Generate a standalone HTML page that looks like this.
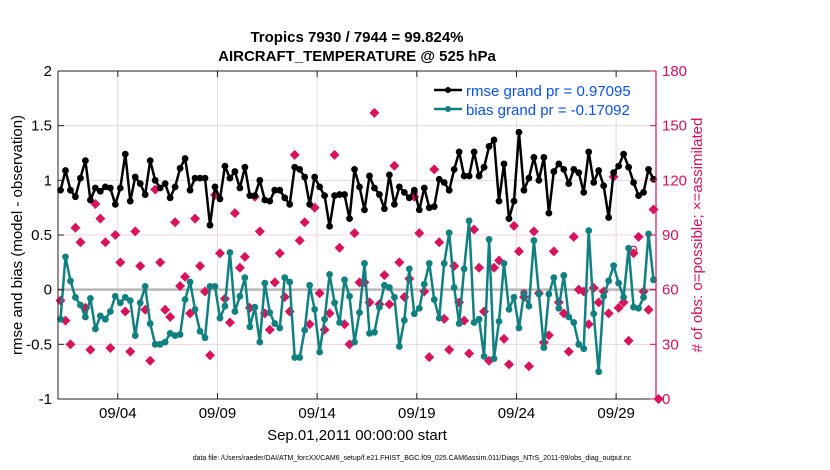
<!DOCTYPE html>
<html><head><meta charset="utf-8"><style>
html,body{margin:0;padding:0;background:#fff;}
svg{display:block;font-family:"Liberation Sans",Arial,sans-serif;}
</style></head><body>
<svg id="chart" width="830" height="470" viewBox="0 0 830 470" xmlns="http://www.w3.org/2000/svg">
<rect x="0" y="0" width="830" height="470" fill="#fff"/>
<g id="grid"></g>
<g id="marks"></g>
<g id="axes"></g>
<text x="357" y="42" text-anchor="middle" font-size="15" font-weight="bold">Tropics 7930 / 7944 = 99.824%</text>
<text x="357" y="61" text-anchor="middle" font-size="15" font-weight="bold">AIRCRAFT_TEMPERATURE @ 525 hPa</text>
<text transform="translate(22,235) rotate(-90)" text-anchor="middle" font-size="15">rmse and bias (model - observation)</text>
<text transform="translate(702,235) rotate(-90)" text-anchor="middle" font-size="15" fill="#d6105a"># of obs: o=possible; ×=assimilated</text>
<text x="357" y="440" text-anchor="middle" font-size="15">Sep.01,2011 00:00:00 start</text>
<text x="412" y="460" text-anchor="middle" font-size="7">data file: /Users/raeder/DAI/ATM_forcXX/CAM6_setup/f.e21.FHIST_BGC.f09_025.CAM6assim.011/Diags_NTrS_2011-09/obs_diag_output.nc</text>
<g>
<rect x="430" y="78" width="222" height="40" fill="#fff"/>
<g>
<line x1="434" y1="90" x2="462" y2="90" stroke="#000" stroke-width="2.5"/>
<circle cx="448" cy="90" r="3" fill="#000"/>
<text x="466" y="96" font-size="15" fill="#0a50f0">rmse grand pr = 0.97095</text>
</g>
<g>
<line x1="434" y1="109" x2="462" y2="109" stroke="#108080" stroke-width="2.5"/>
<circle cx="448" cy="109" r="3" fill="#108080"/>
<text x="466" y="115" font-size="15" fill="#0a50f0">bias grand pr = -0.17092</text>
</g>
</g>
</svg>
<script>
const rmse = [0.91,1.09,0.91,0.85,1.02,1.18,0.82,0.93,0.90,0.94,0.93,0.78,0.93,1.24,0.81,1.03,0.97,0.87,1.18,1.00,0.93,0.97,0.84,0.94,1.11,1.20,0.91,1.02,1.02,1.02,0.59,
0.94,0.83,1.13,1.02,1.08,0.93,1.12,0.86,0.86,1.00,0.82,0.81,0.91,0.91,0.84,0.78,1.12,1.10,1.03,0.78,1.03,0.94,0.86,0.58,0.86,0.87,0.87,0.65,1.10,0.94,
0.73,1.04,0.93,0.87,0.74,1.05,0.78,0.94,0.89,0.84,0.91,0.73,0.93,0.75,0.76,1.01,0.98,0.91,1.10,1.26,1.04,1.04,1.26,1.04,1.12,1.31,1.37,0.81,1.15,0.65,
0.81,1.44,0.91,1.02,1.21,1.00,1.21,0.70,1.08,1.15,1.10,0.97,1.10,1.07,0.89,1.26,0.98,1.09,0.95,0.66,1.07,1.13,1.24,1.12,0.98,0.86,0.89,1.10,1.01];
const bias = [-0.27,0.30,0.08,-0.07,-0.14,-0.25,-0.08,-0.36,-0.24,-0.27,-0.20,-0.06,-0.12,-0.07,-0.10,-0.42,-0.12,0.03,-0.31,-0.50,-0.50,-0.48,-0.40,-0.42,-0.41,-0.09,0.07,-0.18,-0.38,-0.44,0.03,
0.03,-0.26,-0.15,0.34,-0.20,-0.06,0.11,-0.34,-0.16,-0.48,0.06,-0.21,-0.31,-0.35,0.11,0.07,-0.62,-0.62,-0.37,0.04,-0.18,-0.57,-0.27,0.14,-0.12,-0.30,0.09,-0.06,-0.48,-0.21,
0.24,-0.40,-0.39,-0.16,0.04,0.02,-0.07,-0.52,-0.28,0.19,-0.22,-0.17,0.05,0.24,-0.09,-0.26,0.24,0.52,0.02,-0.31,0.19,0.63,-0.30,-0.27,-0.61,0.46,-0.63,-0.29,0.24,-0.18,
-0.07,-0.35,-0.04,-0.15,0.45,-0.04,-0.53,-0.04,0.11,-0.17,0.13,-0.25,-0.30,-0.50,-0.54,0.54,-0.22,-0.75,-0.06,0.08,0.22,0.06,-0.07,0.38,-0.16,-0.17,-0.07,0.51,0.09];
const nobs = [54,43,30,94,86,50,27,107,99,86,28,90,75,48,26,92,73,49,21,115,75,49,45,97,62,67,47,99,73,59,24,
112,80,55,42,102,72,78,50,111,92,47,38,64,80,56,48,134,87,97,41,105,58,38,47,134,83,41,30,91,64,
64,53,157,52,68,52,128,75,56,66,111,91,59,23,126,86,44,27,73,53,43,25,93,72,48,21,72,76,33,19,
95,81,56,18,92,58,31,35,81,53,47,26,89,60,59,41,61,53,59,47,122,50,53,32,80,89,59,49,104,0];
const possibleIdx = [71,93,115];
const xTickLabels = ["09/04","09/09","09/14","09/19","09/24","09/29"];
const xTickDays = [3,8,13,18,23,28];
const yLeftTicks = [-1,-0.5,0,0.5,1,1.5,2];
const yLeftLabels = ["-1","-0.5","0","0.5","1","1.5","2"];
const yRightTicks = [0,30,60,90,120,150,180];

const L=58,R=656,T=71,B=399;
const NS="http://www.w3.org/2000/svg";
function X(day){return L+day*(R-L)/30;}
function tIdx(i){return 0.125+i*0.25;}
function YL(v){return B-(v+1)*(B-T)/3;}
function YR(v){return B-v*(B-T)/180;}
function mk(tag,attrs,parent){const e=document.createElementNS(NS,tag);for(const k in attrs)e.setAttribute(k,attrs[k]);parent.appendChild(e);return e;}
const grid=document.getElementById('grid'),marks=document.getElementById('marks'),axes=document.getElementById('axes');

xTickDays.forEach(d=>{const l=mk('line',{x1:X(d),x2:X(d),y1:T,y2:B,stroke:'#dcdcdc','stroke-width':1},grid);

});
yRightTicks.forEach(v=>{if(v===0||v===180)return;const l=mk('line',{x1:L,x2:R,y1:YR(v),y2:YR(v),stroke:'#f5cfe0','stroke-width':1},grid);

});
const z=mk('line',{x1:L,x2:R,y1:YL(0),y2:YL(0),stroke:'#b8b8b8','stroke-width':2.5},grid);



nobs.forEach((v,i)=>{const x=X(tIdx(i)),y=YR(v),s=5;
const p=mk('path',{d:`M${x},${y-s}L${x+s},${y}L${x},${y+s}L${x-s},${y}Z`,fill:'#d8135c'},marks);

});
possibleIdx.forEach(i=>{const c=mk('circle',{cx:X(tIdx(i)),cy:YR(nobs[i])-4,r:3,fill:'none',stroke:'#d8135c','stroke-width':1.3},marks);

});

function series(vals,color,name){
const pts=vals.map((v,i)=>X(tIdx(i)).toFixed(1)+','+YL(v).toFixed(1)).join(' ');
const pl=mk('polyline',{points:pts,fill:'none',stroke:color,'stroke-width':2.5,'stroke-linejoin':'round'},marks);


vals.forEach((v,i)=>{const c=mk('circle',{cx:X(tIdx(i)),cy:YL(v),r:3.4,fill:color},marks);

});
}
series(bias,'#108080','bias');
series(rmse,'#000','rmse');

const f1=mk('path',{d:`M${L},${T}H${R}M${L},${T}V${B}H${R}`,stroke:'#222','stroke-width':1,fill:'none'},axes);


const ra=mk('line',{x1:R,x2:R,y1:T,y2:B,stroke:'#d6105a','stroke-width':1.2},axes);


xTickDays.forEach((d,i)=>{mk('line',{x1:X(d),x2:X(d),y1:B,y2:B-6,stroke:'#222'},axes);mk('line',{x1:X(d),x2:X(d),y1:T,y2:T+6,stroke:'#222'},axes);
const t=mk('text',{x:X(d),y:418,'text-anchor':'middle','font-size':15},axes);t.textContent=xTickLabels[i];

});
yLeftTicks.forEach((v,i)=>{mk('line',{x1:L,x2:L+6,y1:YL(v),y2:YL(v),stroke:'#222'},axes);
const t=mk('text',{x:L-6,y:YL(v)+5,'text-anchor':'end','font-size':15},axes);t.textContent=yLeftLabels[i];

});
yRightTicks.forEach(v=>{mk('line',{x1:R,x2:R-6,y1:YR(v),y2:YR(v),stroke:'#d6105a'},axes);
const t=mk('text',{x:R+6,y:YR(v)+5,'font-size':15,fill:'#d6105a'},axes);t.textContent=String(v);

});
</script>
</body></html>
